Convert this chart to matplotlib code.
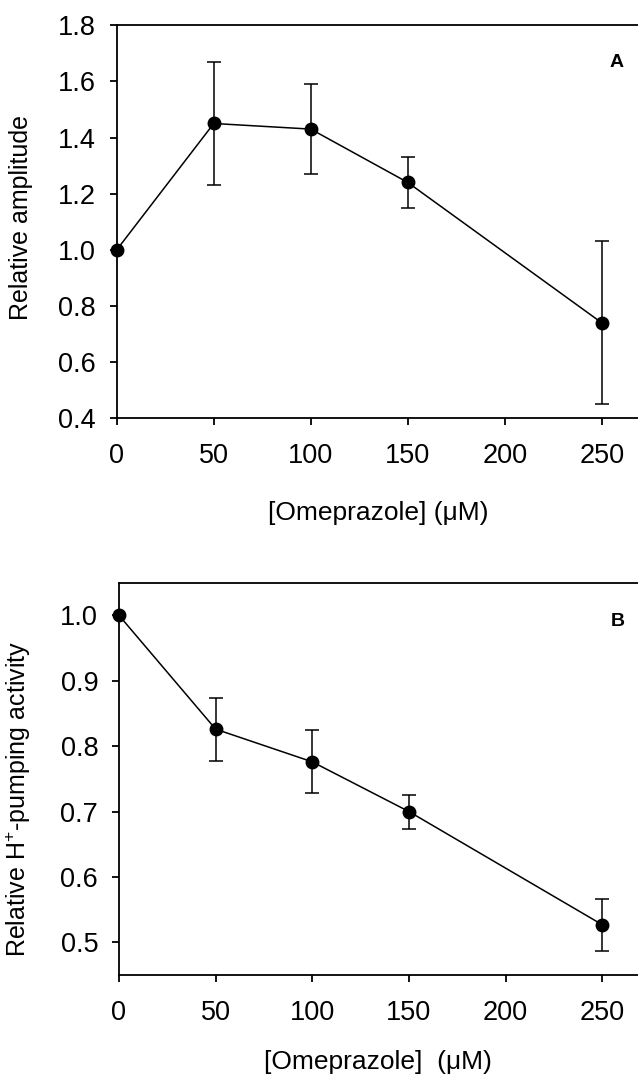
import matplotlib
matplotlib.use("Agg")
import matplotlib.pyplot as plt

plt.rcParams['font.family'] = ['Liberation Sans', 'DejaVu Sans']
plt.rcParams['mathtext.fontset'] = 'custom'
plt.rcParams['mathtext.rm'] = 'Liberation Sans'
plt.rcParams['mathtext.it'] = 'Liberation Sans:italic'

# omeprazole concentrations (uM)
conc = [0, 50, 100, 150, 250]

# panel A: relative amplitude
amp = [1.00, 1.45, 1.43, 1.24, 0.74]
amp_err = [0.0, 0.22, 0.16, 0.09, 0.29]

# panel B: relative H+-pumping activity
pump = [1.00, 0.826, 0.776, 0.700, 0.527]
pump_err = [0.0, 0.048, 0.048, 0.026, 0.040]

x_ticks = [0, 50, 100, 150, 200, 250]

TICK_FS = 19.5
LABEL_FS = 19


def style_axes(ax, ylim, yticks):
    ax.set_xlim(0, 270)
    ax.set_ylim(*ylim)
    ax.set_xticks(x_ticks)
    ax.set_yticks(yticks)
    ax.set_yticklabels(['{:.1f}'.format(v) for v in yticks])
    ax.spines['right'].set_visible(False)
    for s in ax.spines.values():
        s.set_linewidth(1.3)
    ax.tick_params(direction='out', length=5, width=1.3, labelsize=TICK_FS,
                   colors='black')
    ax.tick_params(axis='y', pad=10)
    ax.tick_params(axis='x', pad=13)


def draw_panel(ax, y, yerr):
    ax.errorbar(conc, y, yerr=[e if e > 0 else float('nan') for e in yerr],
                fmt='none', ecolor='black', elinewidth=1.1, capsize=5,
                capthick=1.1, zorder=2)
    ax.plot(conc, y, color='black', lw=1.1, marker='o', markersize=9,
            markerfacecolor='black', markeredgecolor='black', zorder=3,
            clip_on=False)


fig = plt.figure(figsize=(6.38, 10.78), dpi=100)

ax1 = fig.add_axes([0.183, 0.612, 0.821, 0.3646])
draw_panel(ax1, amp, amp_err)
style_axes(ax1, (0.4, 1.8), [0.4, 0.6, 0.8, 1.0, 1.2, 1.4, 1.6, 1.8])
ax1.set_ylabel('Relative amplitude', fontsize=18)
ax1.yaxis.set_label_coords(-0.16, 0.51)
ax1.set_xlabel('[Omeprazole] (\u03bcM)', fontsize=LABEL_FS)
ax1.xaxis.set_label_coords(0.5, -0.21)
ax1.text(0.955, 0.905, 'A', transform=ax1.transAxes, fontsize=14,
         fontweight='bold', ha='center', va='center')

ax2 = fig.add_axes([0.1865, 0.0955, 0.818, 0.364])
draw_panel(ax2, pump, pump_err)
style_axes(ax2, (0.45, 1.05), [0.5, 0.6, 0.7, 0.8, 0.9, 1.0])
ax2.set_ylabel('Relative H$^{+}$-pumping activity', fontsize=18)
ax2.yaxis.set_label_coords(-0.165, 0.45)
ax2.set_xlabel('[Omeprazole]  (\u03bcM)', fontsize=LABEL_FS)
ax2.xaxis.set_label_coords(0.496, -0.19)
ax2.text(0.955, 0.9, 'B', transform=ax2.transAxes, fontsize=14,
         fontweight='bold', ha='center', va='center')

fig.savefig('out.png', dpi=100)
